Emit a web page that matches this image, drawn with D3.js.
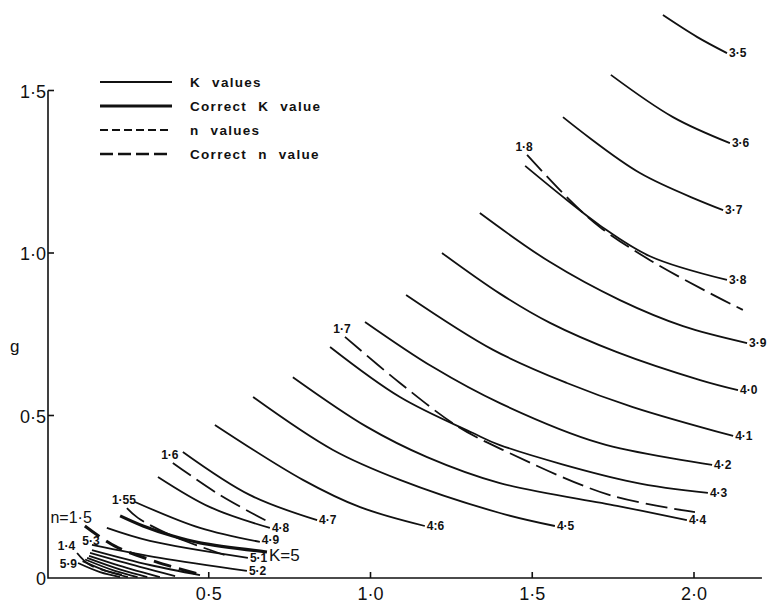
<!DOCTYPE html>
<html>
<head>
<meta charset="utf-8">
<script src="https://cdn.jsdelivr.net/npm/d3@7"></script>
<style>
  body { margin: 0; background: #fff; }
  text { font-family: "Liberation Sans", Arial, sans-serif; fill: #111; }
</style>
</head>
<body>
<div id="chart"></div>
<script>
// K contours (solid), values as [x, g]
const kValues = ["3·5", "3·6", "3·7", "3·8", "3·9", "4·0", "4·1", "4·2", "4·3", "4·4", "4·5", "4:6", "4·7", "4·8", "4·9"];
const kCurves = [
  [[1.904, 1.732], [2.009, 1.665], [2.102, 1.615]],
  [[1.743, 1.548], [1.935, 1.418], [2.111, 1.338]],
  [[1.595, 1.418], [1.833, 1.246], [2.090, 1.132]],
  [[1.478, 1.268], [1.607, 1.163], [1.709, 1.085], [1.864, 0.990], [2.102, 0.917]],
  [[1.338, 1.123], [1.555, 0.972], [1.771, 0.855], [1.966, 0.775], [2.164, 0.723]],
  [[1.221, 1.000], [1.400, 0.875], [1.555, 0.785], [1.762, 0.695], [2.019, 0.609], [2.136, 0.578]],
  [[1.110, 0.871], [1.379, 0.702], [1.607, 0.600], [1.811, 0.526], [2.121, 0.437]],
  [[0.983, 0.788], [1.193, 0.649], [1.400, 0.538], [1.709, 0.415], [2.056, 0.348]],
  [[0.875, 0.711], [1.091, 0.557], [1.317, 0.446], [1.400, 0.409], [1.811, 0.295], [2.043, 0.262]],
  [[0.760, 0.618], [0.989, 0.465], [1.175, 0.372], [1.400, 0.292], [1.762, 0.222], [1.978, 0.178]],
  [[0.637, 0.557], [0.884, 0.394], [1.091, 0.302], [1.400, 0.200], [1.570, 0.160]],
  [[0.519, 0.471], [0.791, 0.302], [0.968, 0.218], [1.168, 0.160]],
  [[0.420, 0.388], [0.628, 0.255], [0.835, 0.178]],
  [[0.343, 0.311], [0.504, 0.218], [0.689, 0.154]],
  [[0.272, 0.234], [0.473, 0.154], [0.658, 0.111]]
];

// correct K value
const kCorrectLabel = "K=5";
const kCorrect = [[0.226, 0.191], [0.297, 0.160], [0.389, 0.129], [0.473, 0.108], [0.680, 0.080]];

// larger K values crowded near the origin (5·1 ... 5·9)
const kLowValues = ["5·1", "5·2", "5·3", "5·4", "5·5", "5·6", "5·7", "5·8", "5·9"];
const kLowCurves = [
  [[0.185, 0.154], [0.318, 0.114], [0.621, 0.062]],
  [[0.139, 0.102], [0.349, 0.062], [0.618, 0.022]],
  [[0.139, 0.086], [0.318, 0.040], [0.473, 0.009]],
  [[0.133, 0.077], [0.287, 0.034], [0.396, 0.006]],
  [[0.130, 0.068], [0.257, 0.028], [0.349, 0.003]],
  [[0.124, 0.062], [0.230, 0.025], [0.310, 0.003]],
  [[0.118, 0.057], [0.210, 0.022], [0.280, 0.003]],
  [[0.110, 0.052], [0.188, 0.020], [0.250, 0.003]],
  [[0.096, 0.046], [0.164, 0.018], [0.226, 0.003]]
];

// n contours (dashed)
const nValues = ["1·8", "1·7", "1·6", "1·55", "1·4"];
const nCurves = [
  [[1.484, 1.302], [1.607, 1.172], [1.709, 1.080], [1.864, 0.978], [2.071, 0.865], [2.151, 0.825]],
  [[0.921, 0.742], [1.091, 0.600], [1.272, 0.465], [1.422, 0.388], [1.740, 0.255], [2.003, 0.203]],
  [[0.389, 0.354], [0.535, 0.255], [0.680, 0.175]],
  [[0.247, 0.215], [0.281, 0.185], [0.389, 0.129], [0.566, 0.065]],
  [[0.093, 0.077], [0.133, 0.040], [0.247, 0.006]]
];

// correct n value
const nCorrectLabel = "n=1·5";
const nCorrect = [[0.117, 0.160], [0.210, 0.098], [0.340, 0.049], [0.479, 0.009]];

const xTicks = [0.5, 1.0, 1.5, 2.0];
const yTicks = [0.5, 1.0, 1.5];
const legendItems = ["K values", "Correct K value", "n values", "Correct n value"];

const fmt = v => v === 0 ? "0" : d3.format(".1f")(v).replace(".", "·");

const width = 771, height = 605;
const svg = d3.select("#chart").append("svg")
  .attr("width", width)
  .attr("height", height);

const x = d3.scaleLinear().domain([0, 2.0]).range([47, 694]);
const y = d3.scaleLinear().domain([0, 1.5]).range([578, 90.5]);

const line = d3.line()
  .x(d => x(d[0]))
  .y(d => y(d[1]))
  .curve(d3.curveCatmullRom.alpha(0.5));

const first = d => d[0];
const last = d => d[d.length - 1];

// axes
svg.append("path")
  .attr("d", `M${x(0) + 1},${y(1.5)}V${y(0)}H${x(2.21)}`)
  .attr("fill", "none")
  .attr("stroke", "#111")
  .attr("stroke-width", 1.6);

svg.append("g")
  .selectAll("line")
  .data(xTicks)
  .enter().append("line")
  .attr("x1", d => x(d)).attr("x2", d => x(d))
  .attr("y1", y(0)).attr("y2", y(0) - 6)
  .attr("stroke", "#111").attr("stroke-width", 1.6);

svg.append("g")
  .selectAll("line")
  .data(yTicks)
  .enter().append("line")
  .attr("x1", x(0) + 1).attr("x2", x(0) + 7)
  .attr("y1", d => y(d)).attr("y2", d => y(d))
  .attr("stroke", "#111").attr("stroke-width", 1.6);

svg.append("g")
  .selectAll("text")
  .data(xTicks)
  .enter().append("text")
  .attr("x", d => x(d))
  .attr("y", y(0) + 22)
  .attr("text-anchor", "middle")
  .style("font-size", "18px")
  .text(fmt);

svg.append("g")
  .selectAll("text")
  .data([0].concat(yTicks))
  .enter().append("text")
  .attr("x", x(0) - 1)
  .attr("y", d => y(d) + 7)
  .attr("text-anchor", "end")
  .style("font-size", "18px")
  .text(fmt);

svg.append("text")
  .attr("x", 10)
  .attr("y", 352)
  .style("font-size", "17px")
  .text("g");

// K curves
const kGroup = svg.append("g");
kGroup.selectAll("path")
  .data(kCurves.concat(kLowCurves))
  .enter().append("path")
  .attr("d", line)
  .attr("fill", "none")
  .attr("stroke", "#111")
  .attr("stroke-width", 1.8);

kGroup.selectAll("text")
  .data(kCurves)
  .enter().append("text")
  .attr("x", d => x(last(d)[0]) + 2)
  .attr("y", (d, i) => y(last(d)[1]) + (i === kCurves.length - 1 ? 2 : 4))
  .style("font-size", "12px")
  .style("font-weight", "bold")
  .text((d, i) => kValues[i]);

// labels of 5·1, 5·2 at the right end, 5·3 and 5·9 at the left end
[0, 1].forEach(i => {
  svg.append("text")
    .attr("x", x(last(kLowCurves[i])[0]) + 2)
    .attr("y", y(last(kLowCurves[i])[1]) + 4)
    .style("font-size", "12px").style("font-weight", "bold")
    .text(kLowValues[i]);
});

svg.append("text")
  .attr("x", x(first(kLowCurves[2])[0]) - 1)
  .attr("y", y(first(kLowCurves[2])[1]) - 5)
  .attr("text-anchor", "middle")
  .style("font-size", "12px").style("font-weight", "bold")
  .text(kLowValues[2]);

svg.append("text")
  .attr("x", x(first(kLowCurves[8])[0]) - 1)
  .attr("y", y(first(kLowCurves[8])[1]) + 5)
  .attr("text-anchor", "end")
  .style("font-size", "12px").style("font-weight", "bold")
  .text(kLowValues[8]);

svg.append("path")
  .attr("d", line(kCorrect))
  .attr("fill", "none")
  .attr("stroke", "#111")
  .attr("stroke-width", 3.2);

svg.append("text")
  .attr("x", x(last(kCorrect)[0]) + 2)
  .attr("y", y(last(kCorrect)[1]) + 9)
  .style("font-size", "17px")
  .text(kCorrectLabel);

// n curves
const nGroup = svg.append("g");
nGroup.selectAll("path")
  .data(nCurves)
  .enter().append("path")
  .attr("d", line)
  .attr("fill", "none")
  .attr("stroke", "#111")
  .attr("stroke-width", 1.8)
  .attr("stroke-dasharray", "22,7");

nGroup.selectAll("text")
  .data(nCurves.slice(0, 4))
  .enter().append("text")
  .attr("x", d => x(first(d)[0]) - 3)
  .attr("y", d => y(first(d)[1]) - 4)
  .attr("text-anchor", "middle")
  .style("font-size", "12px")
  .style("font-weight", "bold")
  .text((d, i) => nValues[i]);

svg.append("text")
  .attr("x", x(first(nCurves[4])[0]) - 2)
  .attr("y", y(first(nCurves[4])[1]) - 3)
  .attr("text-anchor", "end")
  .style("font-size", "12px").style("font-weight", "bold")
  .text(nValues[4]);

svg.append("path")
  .attr("d", line(nCorrect))
  .attr("fill", "none")
  .attr("stroke", "#111")
  .attr("stroke-width", 3)
  .attr("stroke-dasharray", "18,8");

svg.append("text")
  .attr("x", x(first(nCorrect)[0]) + 7)
  .attr("y", y(first(nCorrect)[1]) - 3)
  .attr("text-anchor", "end")
  .style("font-size", "16px")
  .text(nCorrectLabel);

// legend
const legend = svg.append("g")
  .attr("transform", "translate(100,82)");

const legendStyles = [
  { w: 1.8, dash: null },
  { w: 3.2, dash: null },
  { w: 1.8, dash: "8,4" },
  { w: 2.6, dash: "13,5" }
];

legendItems.forEach((t, i) => {
  legend.append("line")
    .attr("x1", 0).attr("x2", 72)
    .attr("y1", i * 24).attr("y2", i * 24)
    .attr("stroke", "#111")
    .attr("stroke-width", legendStyles[i].w)
    .attr("stroke-dasharray", legendStyles[i].dash);
  legend.append("text")
    .attr("x", 90)
    .attr("y", i * 24 + 5)
    .style("font-size", "13.5px")
    .style("font-weight", "bold")
    .style("word-spacing", "6px")
    .style("letter-spacing", "1.3px")
    .text(t);
});
</script>
</body>
</html>
